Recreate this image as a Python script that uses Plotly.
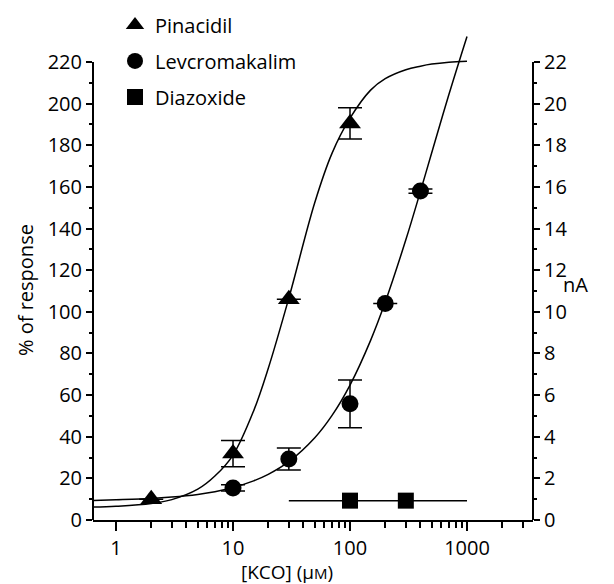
import plotly.graph_objects as go

# ---- data ----
pin_conc = [2, 10, 30, 100]
pin_resp = [10.0, 31.9, 106.0, 190.5]
pin_err = [0, 6.3, 0, 7.5]

lev_conc = [10, 30, 100, 200, 400]
lev_resp = [15.4, 29.3, 55.8, 104.0, 158.0]
lev_err = [1.5, 5.3, 11.5, 0, 1.0]

dia_conc = [100, 300]
dia_resp = [9.3, 9.3]
dia_line_conc = [30, 1000]
dia_line_resp = [9.3, 9.3]

# fitted curves
curve_conc = [0.64, 1, 2, 3, 5, 7, 10, 15, 20, 30, 50, 70, 100, 150, 200, 300, 400, 500, 700, 1000]
pin_curve = [6.2, 6.6, 7.9, 9.8, 14.8, 21.1, 31.2, 52.4, 72.8, 106.6, 152.5, 176.0, 193.0,
             206.5, 212.0, 216.3, 218.0, 219.0, 219.9, 220.4]
lev_curve = [9.4, 9.7, 10.3, 11.0, 12.3, 13.6, 15.6, 18.8, 21.9, 28.0, 39.5, 50.1, 64.8,
             86.3, 104.7, 134.6, 157.9, 176.5, 204.4, 232.3]

x_tick_vals = [1, 10, 100, 1000]
x_tick_text = ["1", "10", "100", "1000"]
x_minor_vals = [2, 3, 4, 5, 6, 7, 8, 9, 20, 30, 40, 50, 60, 70, 80, 90,
                200, 300, 400, 500, 600, 700, 800, 900, 2000, 3000]
y_left_ticks = list(range(0, 221, 20))
y_left_minor = list(range(10, 220, 20))
y_right_ticks = list(range(0, 23, 2))
y_right_minor = list(range(1, 22, 2))

FONT = "Open Sans"
BLACK = "black"

fig = go.Figure()

fig.add_trace(go.Scatter(x=curve_conc, y=pin_curve, mode="lines", line=dict(color=BLACK, width=1.5, shape="spline"),
                         showlegend=False, hoverinfo="skip"))
fig.add_trace(go.Scatter(x=curve_conc, y=lev_curve, mode="lines", line=dict(color=BLACK, width=1.5, shape="spline"),
                         showlegend=False, hoverinfo="skip"))
fig.add_trace(go.Scatter(x=dia_line_conc, y=dia_line_resp, mode="lines", line=dict(color=BLACK, width=1.5),
                         showlegend=False, hoverinfo="skip"))

fig.add_trace(go.Scatter(x=pin_conc, y=pin_resp, mode="markers", name="Pinacidil", legendgroup="a",
                         marker=dict(symbol="triangle-up", size=19, color=BLACK),
                         error_y=dict(type="data", array=pin_err, visible=True, color=BLACK, thickness=1.5, width=12)))
fig.add_trace(go.Scatter(x=lev_conc, y=lev_resp, mode="markers", name="Levcromakalim", legendgroup="b",
                         marker=dict(symbol="circle", size=17, color=BLACK),
                         error_y=dict(type="data", array=lev_err, visible=True, color=BLACK, thickness=1.5, width=12)))
fig.add_trace(go.Scatter(x=dia_conc, y=dia_resp, mode="markers", name="Diazoxide", legendgroup="c",
                         marker=dict(symbol="square", size=16, color=BLACK)))

# invisible trace to activate right axis
fig.add_trace(go.Scatter(x=[1], y=[0], yaxis="y2", mode="markers", marker=dict(opacity=0),
                         showlegend=False, hoverinfo="skip"))

ymax = 235.86

fig.update_layout(
    width=614, height=584,
    margin=dict(l=93, r=81, t=29, b=64, autoexpand=False),
    paper_bgcolor="white", plot_bgcolor="white",
    font=dict(family=FONT, size=20, color=BLACK),
    xaxis=dict(type="log", range=[-0.1966, 3.564], showgrid=False, zeroline=False,
               showline=True, linecolor=BLACK, linewidth=2,
               tickmode="array", tickvals=x_tick_vals, ticktext=x_tick_text,
               ticks="outside", ticklen=9, tickwidth=2, tickcolor=BLACK,
               minor=dict(tickmode="array", tickvals=x_minor_vals, ticks="outside", ticklen=6,
                          tickwidth=1.5, tickcolor=BLACK, showgrid=False),
               tickfont=dict(size=20), automargin=False),
    yaxis=dict(range=[0, ymax], showgrid=False, zeroline=False, showline=False,
               tickmode="array", tickvals=y_left_ticks,
               ticks="outside", ticklen=6, tickwidth=2, tickcolor=BLACK,
               minor=dict(tickmode="array", tickvals=y_left_minor, ticks="outside", ticklen=3,
                          tickwidth=2, tickcolor=BLACK, showgrid=False),
               tickfont=dict(size=20), automargin=False),
    yaxis2=dict(range=[0, ymax / 10], overlaying="y", side="right", showgrid=False, zeroline=False,
                showline=False, tickmode="array", tickvals=y_right_ticks,
                ticks="outside", ticklen=6, tickwidth=2, tickcolor=BLACK,
                minor=dict(tickmode="array", tickvals=y_right_minor, ticks="outside", ticklen=3,
                           tickwidth=2, tickcolor=BLACK, showgrid=False),
                tickfont=dict(size=20), automargin=False),
    legend=dict(x=0.05, y=1.048, xanchor="left", yanchor="top", traceorder="grouped",
                tracegroupgap=7, font=dict(size=20), bgcolor="rgba(0,0,0,0)"),
    shapes=[
        dict(type="line", xref="paper", yref="y", x0=0, x1=0, y0=0, y1=220,
             line=dict(color=BLACK, width=2)),
        dict(type="line", xref="paper", yref="y", x0=1, x1=1, y0=0, y1=220,
             line=dict(color=BLACK, width=2)),
    ],
    annotations=[
        dict(text="% of response", xref="paper", yref="paper", x=-0.155, y=0.468,
             xanchor="center", yanchor="middle",
             textangle=-90, showarrow=False, font=dict(size=20)),
        dict(text="nA", xref="paper", yref="paper", x=1.097, y=0.479,
             xanchor="center", yanchor="middle",
             showarrow=False, font=dict(size=20)),
        dict(text="[KCO] (μ<span style='font-size:15px'>M</span>)", xref="paper", yref="paper",
             x=0.441, y=-0.106, xanchor="center", yanchor="middle",
             showarrow=False, font=dict(size=19)),
    ],
)

fig.write_html("out.html")
